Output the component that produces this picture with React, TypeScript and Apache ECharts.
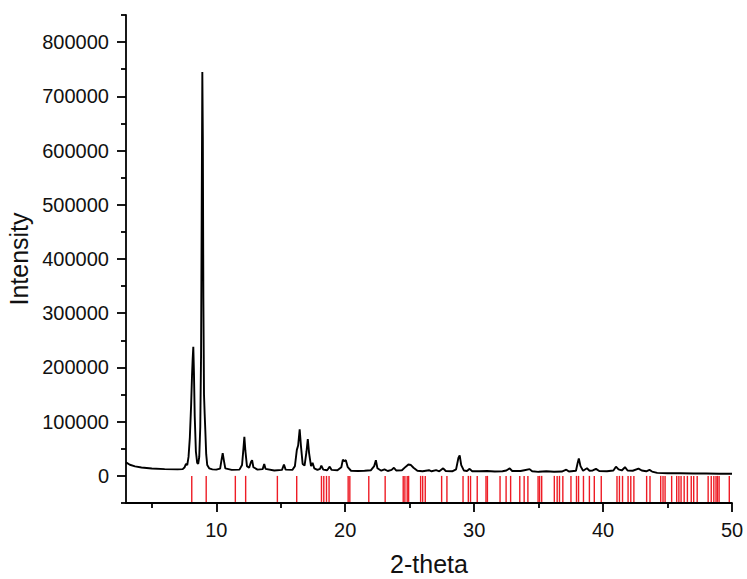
import React, { useEffect, useRef } from "react";
import * as echarts from "echarts";

// Measured XRD pattern [2-theta, intensity]
const lowAnglePattern: [number, number][] = [
  [3.0, 25000], [3.3, 20500], [3.7, 17500], [4.2, 15500], [5.0, 13500], [6.0, 12500],
  [7.0, 12000], [7.4, 12500], [7.55, 16000], [7.65, 22000], [7.75, 20000], [7.85, 35000],
  [7.95, 70000], [8.05, 130000], [8.12, 185000], [8.17, 215000], [8.22, 238000], [8.27, 190000],
  [8.33, 110000], [8.42, 45000], [8.52, 24000], [8.6, 22000], [8.68, 35000], [8.76, 90000],
  [8.82, 220000], [8.87, 480000], [8.92, 745000], [8.96, 620000], [9.0, 330000], [9.05, 150000],
  [9.1, 115000], [9.15, 85000], [9.22, 40000], [9.3, 20000], [9.45, 14000], [9.7, 12000],
  [10.0, 11500], [10.3, 13500], [10.4, 28000], [10.5, 42000], [10.58, 30000], [10.7, 14000],
  [11.2, 11000], [11.8, 11500], [12.0, 20000], [12.1, 48000], [12.18, 72000], [12.26, 46000],
  [12.38, 18000], [12.55, 15000], [12.7, 26000], [12.78, 29000], [12.88, 16000], [13.2, 11500],
  [13.6, 12500], [13.72, 22000], [13.82, 13000], [14.5, 10000], [15.1, 11000], [15.25, 21000],
  [15.38, 11500], [15.9, 11000], [16.1, 18000], [16.25, 48000], [16.35, 56000], [16.47, 86000],
  [16.57, 55000], [16.7, 22000], [16.85, 19000], [17.0, 45000], [17.1, 68000], [17.2, 42000],
  [17.35, 18000], [17.47, 24000], [17.6, 14000], [17.85, 11000], [18.05, 13000], [18.15, 19000],
  [18.3, 11500], [18.6, 10500], [18.8, 17000], [18.95, 11000], [19.4, 10500], [19.7, 16000],
];

const midAnglePattern: [number, number][] = [
  [19.82, 30000], [19.92, 27000], [20.05, 29000], [20.2, 16000], [20.45, 9500], [21.0, 9000],
  [21.5, 9500], [22.0, 10500], [22.25, 18000], [22.38, 29000], [22.5, 14000], [22.8, 9500],
  [23.05, 12000], [23.3, 9000], [23.6, 11000], [23.78, 15000], [23.95, 10000], [24.4, 10500],
  [24.7, 17000], [24.9, 21000], [25.1, 20000], [25.3, 15000], [25.6, 9500], [26.0, 8500],
  [26.5, 10500], [26.7, 8500], [27.05, 10500], [27.3, 8500], [27.6, 14000], [27.8, 9000],
  [28.3, 8500], [28.6, 12000], [28.78, 33000], [28.88, 38000], [29.0, 20000], [29.2, 10000],
  [29.45, 9000], [29.65, 13000], [29.85, 8500], [30.4, 8500], [31.0, 9000], [31.6, 8000],
  [32.2, 8500], [32.5, 10000], [32.76, 14000], [32.95, 9000], [33.6, 9000], [33.9, 10500],
  [34.3, 12500], [34.5, 8500], [35.0, 7500], [35.6, 8500], [36.2, 7500], [36.8, 8000],
];

const highAnglePattern: [number, number][] = [
  [37.15, 11500], [37.35, 8000], [37.9, 9500], [38.03, 24000], [38.12, 32000], [38.25, 18000],
  [38.45, 9500], [38.75, 14000], [38.95, 9500], [39.2, 10000], [39.45, 13000], [39.7, 9000],
  [40.3, 8500], [40.8, 10000], [41.0, 17000], [41.2, 12000], [41.45, 10000], [41.7, 16000],
  [41.9, 10000], [42.3, 9500], [42.75, 13500], [43.0, 10000], [43.35, 8500], [43.6, 11000],
  [43.8, 8000], [44.2, 5500], [45.0, 5000], [46.0, 5000], [47.0, 4500], [48.0, 4500],
  [49.0, 4000], [50.0, 4000],
];

// Reference peak positions (red sticks), 2-theta
const referencePeaks: number[] = [
  8.10, 9.22, 11.48, 12.28, 14.74, 16.24, 18.16, 18.34, 18.55, 18.75, 20.23, 20.36,
  21.83, 23.10, 24.50, 24.63, 24.81, 24.92, 25.85, 26.01, 26.21, 27.48, 27.89, 29.14,
  29.55, 29.72, 30.24, 30.92, 31.03, 32.01, 32.48, 32.83, 33.54, 33.88, 34.17, 34.96,
  35.08, 35.24, 36.22, 36.44, 36.62, 36.88, 37.51, 37.94, 38.10, 38.48, 38.94, 39.32,
  39.86, 41.08, 41.27, 41.51, 41.94, 42.15, 42.39, 43.38, 43.64, 44.47, 44.65, 44.81,
  45.32, 45.71, 45.88, 46.05, 46.29, 46.54, 46.84, 47.03, 47.30, 48.15, 48.39, 48.59,
  48.76, 48.87, 49.00, 49.79,
];

const xMajorTicks = [10, 20, 30, 40, 50];
const xMinorTicks = [5, 15, 25, 35, 45];
const yMajorTicks = [0, 100000, 200000, 300000, 400000, 500000, 600000, 700000, 800000];
const yMinorTicks = [-50000, 50000, 150000, 250000, 350000, 450000, 550000, 650000, 750000, 850000];

const FONT = "Liberation Sans, Arial, Helvetica, sans-serif";

export default function App() {
  const ref = useRef<HTMLDivElement>(null);

  useEffect(() => {
    if (!ref.current) return;
    const chart = echarts.init(ref.current, undefined, { renderer: "svg" });
    const pattern = [...lowAnglePattern, ...midAnglePattern, ...highAnglePattern];
    const axisLineStyle = { color: "#000", width: 1.8 };
    const plain = (v: number) => String(Math.round(v));

    chart.setOption({
      animation: false,
      backgroundColor: "#fff",
      grid: { left: 126, right: 15, top: 15, bottom: 76, containLabel: false, outerBoundsMode: "none" },
      xAxis: [
        {
          type: "value",
          min: 3,
          max: 50,
          name: "2-theta",
          nameLocation: "middle",
          nameGap: 48,
          nameTextStyle: { fontSize: 25, color: "#111", fontFamily: FONT },
          axisLine: { show: true, onZero: false, lineStyle: axisLineStyle },
          axisTick: { show: true, length: 9, inside: false, customValues: xMajorTicks, lineStyle: axisLineStyle },
          axisLabel: { show: true, customValues: xMajorTicks, formatter: plain, margin: 17, fontSize: 20, color: "#111", fontFamily: FONT },
          splitLine: { show: false },
        },
        {
          type: "value",
          min: 3,
          max: 50,
          position: "bottom",
          axisLine: { show: false, onZero: false },
          axisTick: { show: true, length: 5, inside: false, customValues: xMinorTicks, lineStyle: axisLineStyle },
          axisLabel: { show: false },
          splitLine: { show: false },
        },
      ],
      yAxis: [
        {
          type: "value",
          min: -50000,
          max: 850000,
          name: "Intensity",
          nameLocation: "middle",
          nameGap: 92,
          nameTextStyle: { fontSize: 25, color: "#111", fontFamily: FONT },
          axisLine: { show: true, onZero: false, lineStyle: axisLineStyle },
          axisTick: { show: true, length: 9, inside: false, customValues: yMajorTicks, lineStyle: axisLineStyle },
          axisLabel: { show: true, customValues: yMajorTicks, formatter: plain, margin: 17, fontSize: 20, color: "#111", fontFamily: FONT },
          splitLine: { show: false },
        },
        {
          type: "value",
          min: -50000,
          max: 850000,
          position: "left",
          axisLine: { show: false, onZero: false },
          axisTick: { show: true, length: 5, inside: false, customValues: yMinorTicks, lineStyle: axisLineStyle },
          axisLabel: { show: false },
          splitLine: { show: false },
        },
      ],
      series: [
        {
          type: "custom",
          xAxisIndex: 0,
          yAxisIndex: 0,
          data: referencePeaks.map((p) => [p]),
          renderItem: (params: any, api: any) => {
            const x = api.value(0);
            const top = api.coord([x, 0]);
            const bottom = api.coord([x, -48000]);
            return {
              type: "line",
              shape: { x1: top[0], y1: top[1], x2: bottom[0], y2: bottom[1] },
              style: { stroke: "#ee1c25", lineWidth: 1.4 },
            };
          },
          silent: true,
          z: 1,
        },
        {
          type: "line",
          xAxisIndex: 0,
          yAxisIndex: 0,
          data: pattern,
          showSymbol: false,
          symbol: "none",
          lineStyle: { color: "#000", width: 1.9 },
          z: 2,
        },
      ],
    });

    return () => chart.dispose();
  }, []);

  return (
    <div
      ref={ref}
      style={{ position: "fixed", left: 0, top: 0, width: 747, height: 579, background: "#fff" }}
    />
  );
}
